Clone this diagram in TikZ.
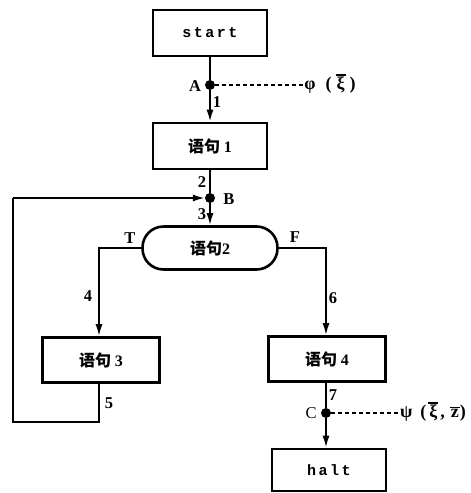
\documentclass[tikz,border=0pt]{standalone}
\usepackage{fontspec}
\setmainfont{Liberation Serif}
\setmonofont{Liberation Mono}
\newfontfamily\cjk{Noto Sans CJK SC}
\usetikzlibrary{arrows.meta}
\newsavebox{\ovlbox}
\newcommand{\ovl}[1]{\sbox{\ovlbox}{\hspace{1pt}#1\hspace{1pt}}\vbox{\hrule height 1.4pt\kern1.5pt\copy\ovlbox}}
\tikzset{
  box/.style={draw, line width=2.6pt, minimum width=114pt, minimum height=46pt, inner sep=0pt, font=\cjk\bfseries\fontsize{16}{19}\selectfont},
  ttbox/.style={box, font=\ttfamily\bfseries\fontsize{15}{18}\selectfont},
  stadium/.style={draw, line width=2.6pt, rounded corners=21pt, minimum width=135pt, minimum height=43pt, inner sep=0pt, font=\cjk\bfseries\fontsize{16}{19}\selectfont},
  conn/.style={line width=1.8pt},
  arr/.style={conn, -{Latex[length=12pt,width=7pt]}},
  dotnode/.style={circle, fill, inner sep=0pt, minimum size=10pt},
  labtext/.style={font=\bfseries\fontsize{16.5}{19}\selectfont, inner sep=0pt},
  sidetext/.style={font=\bfseries\fontsize{18}{21}\selectfont, inner sep=0pt},
  dashline/.style={line width=1.2pt, dash pattern=on 4pt off 3pt},
}
\begin{document}
\begin{tikzpicture}[x=1pt,y=-1pt]
\useasboundingbox (0,0) rectangle (471,493);
% boxes
\node[ttbox] (start) at (210,33) {s\,t\,a\,r\,t};
\node[box] (s1) at (210,146) {语句 {\rmfamily 1}};
\node[stadium] (s2) at (210,248) {语句{\rmfamily 2}};
\node[box, minimum width=117pt, minimum height=45pt] (s3) at (101,360) {语句 {\rmfamily 3}};
\node[box, minimum width=117pt, minimum height=45pt] (s4) at (327,359) {语句 {\rmfamily 4}};
\node[ttbox, minimum height=42pt] (halt) at (329,470) {h\,a\,l\,t};
% junction dots
\node[dotnode] (A) at (210,85) {};
\node[dotnode] (B) at (210,198) {};
\node[dotnode] (C) at (326,413) {};
% side texts
\node[sidetext] (phiT) at (330,84) {φ\hspace{10pt}(\hspace{4pt}\ovl{ξ}\hspace{4pt})};
\node[sidetext] (psiT) at (433,412) {ψ\hspace{8pt}(\hspace{2pt}\ovl{ξ}\hspace{2pt},\hspace{5pt}\ovl{z})};
% loop corners
\coordinate (L0) at (99,422);
\coordinate (L1) at (13,422);
\coordinate (L2) at (13,198);
% connectors
\draw[conn] (start.south) -- (A);
\draw[arr] (A) -- (s1.north);
\draw[conn] (s1.south) -- (B);
\draw[arr] (B) -- (s2.north);
\draw[arr] (s2.west) -| (s3.north -| L0);
\draw[arr] (s2.east) -| (s4.north -| C);
\draw[conn] (s3.south -| L0) -- (L0) -- (L1) -- (L2);
\draw[arr] (L2) -- (B);
\draw[conn] (s4.south -| C) -- (C);
\draw[arr] (C) -- (halt.north -| C);
\draw[dashline] (A) -- (phiT.west |- A);
\draw[dashline] (C) -- (psiT.west |- C);
% labels
\node[labtext] (tA) at (195,86) {A};
\node[labtext] (t1) at (217,102) {1};
\node[labtext] (t2) at (202,182) {2};
\node[labtext] (tB) at (229,199) {B};
\node[labtext] (t3) at (202,214) {3};
\node[labtext] (tT) at (130,238) {T};
\node[labtext] (tF) at (295,237) {F};
\node[labtext] (t4) at (88,296) {4};
\node[labtext] (t6) at (333,298) {6};
\node[labtext] (t5) at (109,403) {5};
\node[labtext] (t7) at (333,395) {7};
\node[font=\fontsize{16.5}{19}\selectfont, inner sep=0pt] (tC) at (311,413) {C};
\end{tikzpicture}
\end{document}
